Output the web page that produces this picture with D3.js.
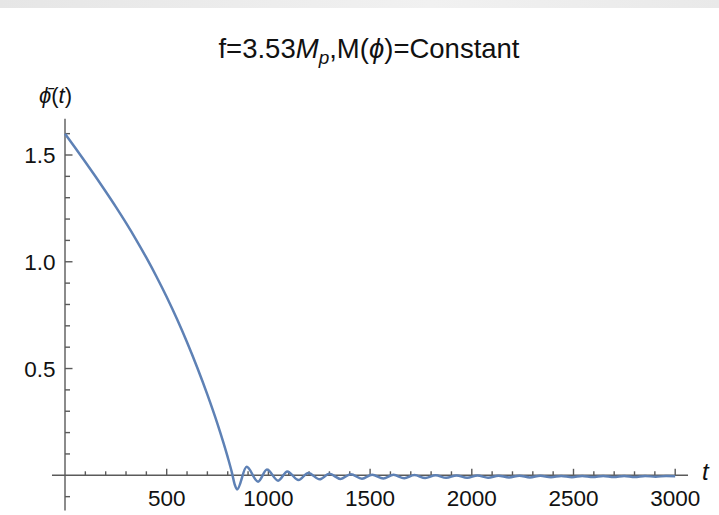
<!DOCTYPE html>
<html><head><meta charset="utf-8">
<script src="https://cdn.jsdelivr.net/npm/d3@7"></script>
<style>body{margin:0;background:#fff}svg{display:block}text{font-family:"Liberation Sans",Arial,sans-serif}</style>
</head><body>
<svg id="c" width="719" height="515"></svg>
<script>
// time samples (t) and field values phi(t)
const tValues = [0,50,100,150,200,250,300,350,400,450,500,550,600,650,700,750,800,820,835,846,
  893,949,993,1048,1093,1148,1196,1252,1300,1355,1405,1460,1510,1565,1615,1668,1718,1771,1822,1874,1925,1977,2028,
  2080,2131,2183,2234,2286,2337,2389,2440,2492,2543,2595,2646,2698,2749,2801,2852,2904,2955,3000];
const phiValues = [1.600,1.534,1.467,1.399,1.329,1.257,1.182,1.103,1.019,0.930,0.835,0.733,0.623,0.505,0.378,0.240,0.085,0.015,-0.045,-0.066,
  0.040,-0.030,0.027,-0.025,0.018,-0.022,0.011,-0.019,0.007,-0.017,0.005,-0.016,0.003,-0.015,0.002,-0.014,0.001,-0.013,0.000,-0.012,-0.001,-0.012,-0.001,
  -0.011,-0.002,-0.010,-0.002,-0.010,-0.002,-0.009,-0.003,-0.009,-0.003,-0.008,-0.003,-0.008,-0.003,-0.008,-0.003,-0.007,-0.003,-0.005];
const xMajorTicks = [500,1000,1500,2000,2500,3000];
const xMinorTicks = d3.range(100,3001,100).filter(v=>v%500!==0);
const yMajorTicks = [0.5,1.0,1.5];
const yMinorTicks = [-0.1,0.1,0.2,0.3,0.4,0.6,0.7,0.8,0.9,1.1,1.2,1.3,1.4,1.6];

const svg = d3.select("#c");
const x = d3.scaleLinear().domain([0,3000]).range([65,675.2]);
const y = d3.scaleLinear().domain([0,1.5]).range([475.3,155]);
const axisColor = "#5a5a5a";
const textColor = "#111";

// top strip
const grad = svg.append("defs").append("linearGradient").attr("id","strip");
grad.append("stop").attr("offset","0%").attr("stop-color","#e6e6e6");
grad.append("stop").attr("offset","60%").attr("stop-color","#f1f1f1");
grad.append("stop").attr("offset","100%").attr("stop-color","#e9e9e9");
svg.append("rect").attr("x",0).attr("y",0).attr("width",719).attr("height",8).attr("fill","url(#strip)");

// x axis
const gx = svg.append("g").attr("stroke",axisColor).attr("stroke-width",1.4);
gx.append("line").attr("x1",x(-64)).attr("x2",x(3063)).attr("y1",y(0)).attr("y2",y(0));
gx.selectAll(".mj").data(xMajorTicks).join("line").attr("x1",d=>x(d)).attr("x2",d=>x(d)).attr("y1",y(0)).attr("y2",y(0)-6.5);
gx.selectAll(".mn").data(xMinorTicks).join("line").attr("x1",d=>x(d)).attr("x2",d=>x(d)).attr("y1",y(0)).attr("y2",y(0)-4);
svg.append("g").selectAll("text").data(xMajorTicks).join("text")
  .attr("x",d=>x(d)).attr("y",506).attr("text-anchor","middle").attr("font-size",22.5).attr("fill",textColor).text(d=>d);

// y axis
const gy = svg.append("g").attr("stroke",axisColor).attr("stroke-width",1.4);
gy.append("line").attr("x1",x(0)).attr("x2",x(0)).attr("y1",y(1.67)).attr("y2",y(-0.165));
gy.selectAll(".mj").data(yMajorTicks).join("line").attr("x1",x(0)).attr("x2",x(0)+7.5).attr("y1",d=>y(d)).attr("y2",d=>y(d));
gy.selectAll(".mn").data(yMinorTicks).join("line").attr("x1",x(0)).attr("x2",x(0)+5).attr("y1",d=>y(d)).attr("y2",d=>y(d));
svg.append("g").selectAll("text").data(yMajorTicks).join("text")
  .attr("x",55.5).attr("y",d=>y(d)+8).attr("text-anchor","end").attr("font-size",22.5).attr("fill",textColor).text(d=>d.toFixed(1));

// curve
const pts = tValues.map((t,i)=>[t,phiValues[i]]);
svg.append("path").datum(pts)
  .attr("d", d3.line().x(d=>x(d[0])).y(d=>y(d[1])).curve(d3.curveMonotoneX))
  .attr("fill","none").attr("stroke","#5e81b5").attr("stroke-width",2.5);

// axis labels
svg.append("text").attr("x",702).attr("y",480).attr("font-size",24).attr("font-style","italic").attr("fill",textColor).text("t");
const yl = svg.append("text").attr("x",39).attr("y",103).attr("font-size",22).attr("fill",textColor);
yl.append("tspan").attr("font-style","italic").text("\u03D5\u0304");
yl.append("tspan").text("(");
yl.append("tspan").attr("font-style","italic").text("t");
yl.append("tspan").text(")");

// title
const tt = svg.append("text").attr("x",369).attr("y",58).attr("text-anchor","middle").attr("font-size",27.5).attr("fill",textColor);
tt.append("tspan").text("f=3.53");
tt.append("tspan").attr("font-style","italic").text("M");
tt.append("tspan").attr("font-style","italic").attr("font-size",19).attr("dy",6).text("p");
tt.append("tspan").attr("dy",-6).text(",M(");
tt.append("tspan").attr("font-style","italic").text("\u03D5");
tt.append("tspan").text(")=Constant");
</script>
</body></html>
